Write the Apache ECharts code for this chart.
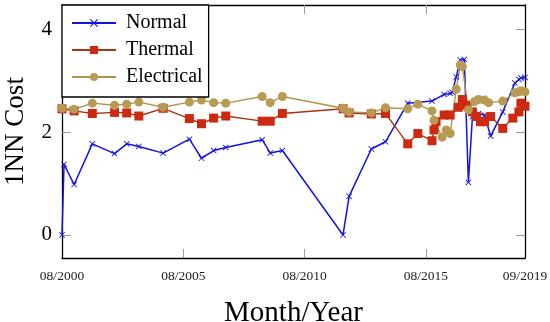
<!DOCTYPE html>
<html>
<head>
<meta charset="utf-8">
<script src="https://cdn.jsdelivr.net/npm/echarts@6/dist/echarts.min.js"></script>
<style>html,body{margin:0;padding:0;background:#fff}#c{width:550px;height:322px}</style>
</head>
<body>
<div id="c"></div>
<script>
// ---- data (dates as YYYY-MM) ----
const normalDates = ['2000-08','2000-09','2001-02','2001-11','2002-10','2003-04','2003-10','2004-10','2005-11','2006-05','2006-11','2007-05','2008-11','2009-03','2009-09','2012-03','2012-06','2013-05','2013-12','2014-11','2015-11','2016-05','2016-08','2016-09','2016-11','2017-01','2017-03','2017-05','2017-07','2017-10','2018-01','2018-04','2018-10','2019-04','2019-06','2019-07','2019-09'];
const normalCost  = [0.00,1.37,0.98,1.77,1.58,1.77,1.72,1.59,1.86,1.49,1.64,1.70,1.85,1.59,1.64,0.00,0.75,1.67,1.81,2.56,2.60,2.73,2.75,2.77,3.07,3.40,3.41,1.02,2.30,2.36,2.33,1.92,2.39,2.95,3.02,3.05,3.06];

const thermalDates = ['2000-08','2001-02','2001-11','2002-10','2003-04','2003-10','2004-10','2005-11','2006-05','2006-11','2007-05','2008-11','2009-03','2009-09','2012-03','2012-06','2013-05','2013-12','2014-11','2015-04','2015-11','2015-12','2016-01','2016-05','2016-08','2016-12','2017-02','2017-04','2017-07','2017-09','2017-11','2018-01','2018-04','2018-10','2019-03','2019-06','2019-07','2019-09'];
const thermalCost  = [2.45,2.41,2.36,2.38,2.37,2.31,2.46,2.26,2.16,2.27,2.31,2.21,2.21,2.36,2.45,2.37,2.35,2.36,1.77,1.97,1.83,2.04,2.20,2.33,2.33,2.48,2.63,2.52,2.39,2.30,2.20,2.20,2.30,2.07,2.27,2.39,2.56,2.50];

const electricalDates = ['2000-08','2001-02','2001-11','2002-10','2003-04','2003-10','2004-10','2005-11','2006-05','2006-11','2007-05','2008-11','2009-03','2009-09','2012-03','2012-06','2013-05','2013-12','2014-11','2015-04','2015-11','2015-12','2016-04','2016-06','2016-08','2016-11','2017-01','2017-02','2017-05','2017-08','2017-10','2018-01','2018-03','2018-10','2019-04','2019-06','2019-07','2019-09'];
const electricalCost  = [2.46,2.44,2.56,2.52,2.54,2.58,2.48,2.58,2.62,2.57,2.56,2.69,2.57,2.69,2.46,2.39,2.37,2.47,2.45,2.54,2.41,2.23,1.90,2.04,1.97,2.83,3.30,3.27,2.43,2.59,2.63,2.62,2.57,2.60,2.76,2.78,2.80,2.78];

const xTickLabels = ['08/2000','08/2005','08/2010','08/2015','09/2019'];
const yTickValues = [0, 2, 4];

// ---- helpers ----
function monthIndex(s) { // months since 2000-08
  let y, m;
  if (s.indexOf('/') >= 0) { const p = s.split('/'); m = +p[0]; y = +p[1]; }
  else { const p = s.split('-'); y = +p[0]; m = +p[1]; }
  return (y - 2000) * 12 + (m - 8);
}
const xTickMonths = xTickLabels.map(monthIndex);
const pairs = (d, v) => d.map((s, i) => [monthIndex(s), v[i]]);

const SERIF = 'Liberation Serif';
const crossPath = 'path://M0,1L1,0L5,4L9,0L10,1L6,5L10,9L9,10L5,6L1,10L0,9L4,5Z';
const tickStyle = {show: true, inside: true, length: 9, lineStyle: {color: '#9a9a9a', width: 1}};

const chart = echarts.init(document.getElementById('c'), null, {renderer: 'canvas'});
chart.setOption({
  animation: false,
  backgroundColor: '#fff',
  grid: {left: 62, right: 25, top: 5, bottom: 64, containLabel: false, outerBoundsMode: 'none'},
  legend: {
    orient: 'vertical', left: 62, top: 5,
    padding: [8, 6, 10, 9], itemGap: 7, itemWidth: 44, itemHeight: 10,
    backgroundColor: '#fff', borderColor: '#000', borderWidth: 1.3, borderRadius: 0,
    textStyle: {fontFamily: SERIF, fontSize: 20, color: '#000', padding: [0, 0, 0, 5]},
    data: ['Normal', 'Thermal', 'Electrical']
  },
  xAxis: [{
    type: 'value', position: 'bottom', min: 0, max: xTickMonths[xTickMonths.length - 1],
    name: 'Month/Year', nameLocation: 'middle', nameGap: 41,
    nameTextStyle: {fontFamily: SERIF, fontSize: 29, color: '#000', verticalAlign: 'top'},
    axisLine: {show: true, onZero: false, lineStyle: {color: '#000', width: 1.3}},
    axisTick: Object.assign({customValues: xTickMonths.slice(1, -1)}, tickStyle),
    axisLabel: {customValues: xTickMonths, margin: 11, fontFamily: SERIF, fontSize: 13.5, color: '#222',
      formatter: v => xTickLabels[xTickMonths.indexOf(v)] || ''},
    splitLine: {show: false}
  }, {
    type: 'value', position: 'top', min: 0, max: xTickMonths[xTickMonths.length - 1],
    axisLine: {show: true, onZero: false, lineStyle: {color: '#000', width: 1.3}},
    axisTick: Object.assign({customValues: xTickMonths.slice(1, -1)}, tickStyle),
    axisLabel: {show: false}, splitLine: {show: false}
  }],
  yAxis: [{
    type: 'value', position: 'left', min: -0.447, max: 4.466,
    name: '1NN Cost', nameLocation: 'middle', nameGap: 33, nameRotate: 90,
    nameTextStyle: {fontFamily: SERIF, fontSize: 27, color: '#000'},
    axisLine: {show: true, onZero: false, lineStyle: {color: '#000', width: 1.3}},
    axisTick: Object.assign({customValues: yTickValues}, tickStyle),
    axisLabel: {customValues: yTickValues, margin: 10, fontFamily: SERIF, fontSize: 21, color: '#000'},
    splitLine: {show: false}
  }, {
    type: 'value', position: 'right', min: -0.447, max: 4.466,
    axisLine: {show: true, onZero: false, lineStyle: {color: '#000', width: 1.3}},
    axisTick: Object.assign({customValues: yTickValues}, tickStyle),
    axisLabel: {show: false}, splitLine: {show: false}
  }],
  series: [{
    name: 'Normal', type: 'line', data: pairs(normalDates, normalCost),
    symbol: crossPath, symbolSize: 6, showAllSymbol: true,
    lineStyle: {color: '#1212e0', width: 1.5}, itemStyle: {color: '#1212e0'}
  }, {
    name: 'Thermal', type: 'line', data: pairs(thermalDates, thermalCost),
    symbol: 'rect', symbolSize: 9, showAllSymbol: true,
    lineStyle: {color: '#a8340f', width: 1.4}, itemStyle: {color: '#cc2a10'}
  }, {
    name: 'Electrical', type: 'line', data: pairs(electricalDates, electricalCost),
    symbol: 'circle', symbolSize: 9, showAllSymbol: true,
    lineStyle: {color: '#b0924c', width: 1.4}, itemStyle: {color: '#b89a52'}
  }]
});
</script>
</body>
</html>
